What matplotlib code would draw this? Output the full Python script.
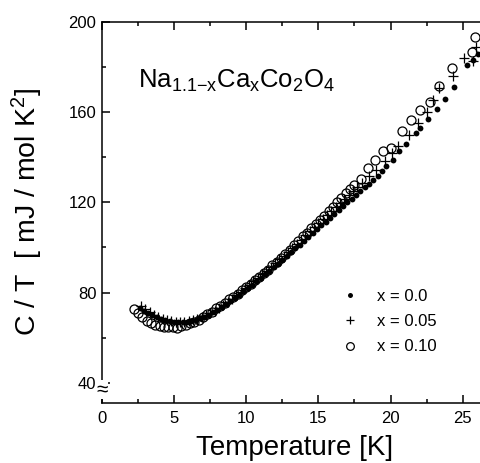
import numpy as np
import matplotlib
matplotlib.use("Agg")
import matplotlib.pyplot as plt
from matplotlib.ticker import MultipleLocator

plt.rcParams['font.family'] = ['Liberation Sans', 'DejaVu Sans']
plt.rcParams['mathtext.fontset'] = 'custom'
plt.rcParams['mathtext.rm'] = 'Liberation Sans'
plt.rcParams['mathtext.it'] = 'Liberation Sans'
plt.rcParams['mathtext.bf'] = 'Liberation Sans:bold'
plt.rcParams['mathtext.default'] = 'regular'

# x = 0.0  (filled dots)
T_00 = [2.6, 2.9, 3.2, 3.5, 3.8, 4.1, 4.4, 4.7, 5.0, 5.3, 5.6, 5.9, 6.2, 6.5, 6.8,
        7.1, 7.4, 7.7, 8.0, 8.3, 8.6, 8.9, 9.2, 9.5, 9.8, 10.1, 10.4, 10.7, 11.0,
        11.3, 11.6, 11.9, 12.2, 12.5, 12.8, 13.1, 13.4, 13.7, 14.0, 14.3, 14.6,
        14.9, 15.2, 15.5, 15.8, 16.1, 16.4, 16.7, 17.0, 17.3, 17.6, 17.9, 18.2,
        18.5, 18.8, 19.1, 19.4, 19.7, 20.2, 20.6, 21.1, 21.75, 22.07, 22.6, 23.2,
        23.75, 24.4, 25.3, 25.7, 26.06]
C_00 = [73.0, 72.0, 71.0, 70.0, 69.0, 68.3, 67.7, 67.2, 67.0, 66.8, 66.8, 67.0,
        67.3, 67.8, 68.5, 69.3, 70.2, 71.2, 72.3, 73.5, 74.8, 76.2, 77.6, 79.0,
        80.5, 82.0, 83.5, 85.0, 86.5, 88.0, 89.6, 91.2, 92.8, 94.5, 96.2, 97.9,
        99.6, 101.3, 103.0, 104.7, 106.4, 108.1, 109.8, 111.5, 113.2, 114.9,
        116.6, 118.3, 120.0, 121.7, 123.4, 125.0, 126.6, 128.3, 130.0, 131.8,
        133.8, 136.0, 139.0, 142.7, 146.0, 150.8, 153.0, 157.0, 161.4, 165.8,
        171.0, 181.0, 183.0, 186.0]

# x = 0.05  (plus)
T_05 = [2.7, 3.0, 3.3, 3.6, 3.9, 4.2, 4.5, 4.8, 5.1, 5.4, 5.7, 6.0, 6.3, 6.6, 6.9,
        7.2, 7.5, 7.8, 8.1, 8.4, 8.7, 9.0, 9.3, 9.6, 9.9, 10.2, 10.5, 10.8, 11.1,
        11.4, 11.7, 12.0, 12.3, 12.6, 12.9, 13.2, 13.5, 13.8, 14.1, 14.4, 14.7,
        15.0, 15.3, 15.6, 15.9, 16.2, 16.5, 16.8, 17.1, 17.4, 17.7, 18.0, 18.5,
        19.0, 19.6, 20.1, 20.5, 21.28, 21.9, 22.5, 22.95, 23.36, 24.3, 25.1,
        25.7, 25.9]
C_05 = [74.0, 72.5, 71.3, 70.2, 69.2, 68.4, 67.8, 67.3, 67.0, 66.9, 67.0, 67.2,
        67.6, 68.2, 69.0, 69.9, 70.9, 72.0, 73.2, 74.5, 75.9, 77.3, 78.8, 80.3,
        81.8, 83.3, 84.9, 86.5, 88.1, 89.7, 91.3, 93.0, 94.7, 96.4, 98.1, 99.9,
        101.7, 103.5, 105.3, 107.1, 108.9, 110.7, 112.5, 114.3, 116.1, 117.9,
        119.7, 121.5, 123.3, 125.0, 126.7, 128.4, 131.5, 134.5, 138.5, 142.0,
        145.0, 150.0, 155.0, 160.0, 165.5, 170.7, 176.0, 184.0, 182.5, 189.0]

# x = 0.10  (open circles)
T_10 = [2.2, 2.5, 2.8, 3.1, 3.4, 3.7, 4.0, 4.3, 4.6, 4.9, 5.2, 5.5, 5.8, 6.1, 6.4,
        6.7, 7.0, 7.3, 7.6, 7.9, 8.2, 8.5, 8.8, 9.1, 9.4, 9.7, 10.0, 10.3, 10.6,
        10.9, 11.2, 11.5, 11.8, 12.1, 12.4, 12.7, 13.0, 13.3, 13.6, 13.9, 14.2,
        14.5, 14.8, 15.1, 15.4, 15.7, 16.0, 16.3, 16.6, 16.9, 17.2, 17.5, 17.98,
        18.45, 18.9, 19.5, 20.0, 20.8, 21.44, 22.07, 22.7, 23.36, 24.26, 25.67,
        25.83]
C_10 = [72.5, 71.0, 69.0, 67.5, 66.5, 65.5, 65.0, 64.8, 64.5, 64.5, 64.3, 65.0,
        65.5, 66.5, 67.0, 68.0, 69.0, 70.5, 71.5, 73.0, 74.0, 75.5, 77.0, 78.0,
        79.5, 81.0, 82.5, 84.0, 85.5, 87.0, 88.5, 90.0, 92.0, 93.5, 95.5, 97.0,
        99.0, 101.0, 103.0, 105.0, 106.5, 108.5, 110.5, 112.0, 114.0, 116.0,
        118.0, 120.0, 122.0, 124.0, 126.0, 127.5, 130.5, 135.3, 139.0, 142.7,
        144.2, 151.5, 156.7, 161.0, 164.5, 171.4, 179.5, 186.6, 193.5]

labels = ["x = 0.0", "x = 0.05", "x = 0.10"]

fig = plt.figure(figsize=(4.8, 4.63), dpi=100)
ax = fig.add_axes([0.2125, 0.1296, 0.7875, 0.8229])

ax.plot(T_00, C_00, 'o', ms=4.2, color='black', mew=0, label=labels[0])
ax.plot(T_05, C_05, '+', ms=7, color='black', mew=0.9, label=labels[1])
ax.plot(T_10, C_10, 'o', ms=6.5, mfc='none', mec='black', mew=0.9, label=labels[2])

ax.set_xlim(0, 26.2)
ax.set_ylim(31, 200)
ax.xaxis.set_major_locator(MultipleLocator(5))
ax.xaxis.set_minor_locator(MultipleLocator(2.5))
ax.set_yticks([40, 80, 120, 160, 200])
ax.yaxis.set_minor_locator(MultipleLocator(20))
ax.tick_params(which='both', direction='in', top=True, right=False,
               labelsize=12, width=1.1)
ax.tick_params(axis='x', pad=6)
ax.tick_params(axis='y', pad=4)
ax.tick_params(which='major', length=5.5)
ax.tick_params(which='minor', length=3)
ax.spines['right'].set_visible(False)
for s in ['left', 'bottom', 'top']:
    ax.spines[s].set_linewidth(1.1)

ax.set_xlabel("Temperature [K]", fontsize=20)
ax.set_ylabel(r"C / T  [ mJ / mol K$^2$]", fontsize=20.5)
ax.xaxis.set_label_coords(0.51, -0.083)
ax.yaxis.set_label_coords(-0.15, 0.5)

ax.text(0.095, 0.827, r"Na$_{1.1{-}x}$Ca$_x$Co$_2$O$_4$",
        transform=ax.transAxes, fontsize=18.5, va='baseline')

# axis break mark
ax.text(0, 0.035, "≈", transform=ax.transAxes, fontsize=15,
        ha='center', va='center', clip_on=False,
        bbox=dict(facecolor='white', edgecolor='none', pad=0.2))

ax.legend(loc='upper left', bbox_to_anchor=(0.635, 0.3), frameon=False,
          fontsize=12, handlelength=1, handletextpad=1.1, labelspacing=0.62,
          borderpad=0, borderaxespad=0, markerscale=0.85)

fig.savefig("out.png", dpi=100)
